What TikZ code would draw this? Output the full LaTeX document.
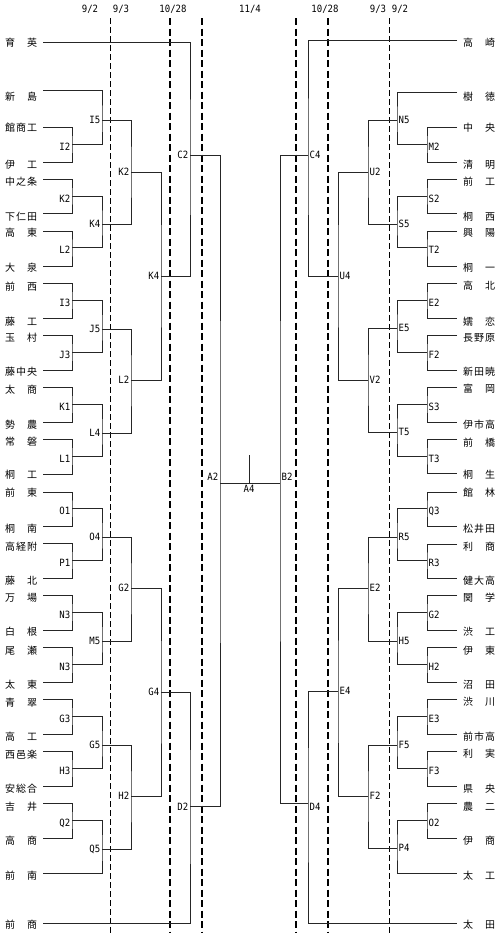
\documentclass[tikz,border=0pt]{standalone}
\usepackage{fontspec}
\usepackage{graphicx}
\usepackage{tikz}
\usetikzlibrary{positioning}
\newfontfamily\jpfont{Noto Sans CJK JP}
\newfontfamily\tagfont{DejaVu Sans Mono}
\newcommand{\sch}[1]{\makebox[32pt][l]{#1}}
\newcommand{\mk}[1]{\scalebox{0.9}[1]{#1}}
\tikzset{
    school/.style={font=\jpfont\fontsize{10}{10}\selectfont, inner sep=0pt},
    tag/.style={font=\tagfont\fontsize{10}{10}\selectfont, inner sep=1.5pt},
    bline/.style={line width=0.9pt, black!85},
    daythin/.style={dash pattern=on 6pt off 3pt, line width=0.9pt},
    daythick/.style={dash pattern=on 7pt off 3.5pt, line width=1.5pt}
}

\begin{document}
\begin{tikzpicture}[x=1pt, y=-1pt]
    \useasboundingbox[fill=white] (0,0) rectangle (500,937);

    % days
    \node[tag] (dayA) at (90,9) {\mk{9/2}};
    \node[tag] (dayB) at (121,9) {\mk{9/3}};
    \node[tag] (dayC) at (173,9) {\mk{10/28}};
    \node[tag] (dayD) at (250,9) {\mk{11/4}};
    \node[tag] (dayE) at (325,9) {\mk{10/28}};
    \node[tag] (dayF) at (378,9) {\mk{9/3}};
    \node[tag] (dayG) at (400,9) {\mk{9/2}};
    \foreach \x in {110,389}
        \draw[daythin] (\x,18) -- (\x,933);
    \foreach \x in {170,202,296,328}
        \draw[daythick] (\x,18) -- (\x,933);

    % left schools
    \foreach \i/\ty/\ly/\nm in {
        1/43/42/{育\hfill 英}, 2/97/90/{新\hfill 島}, 3/128/127/{館\hfill 商\hfill 工}, 4/165/162/{伊\hfill 工},
        5/182/179/{中\hfill 之\hfill 条}, 6/217/213/{下\hfill 仁\hfill 田}, 7/233/231/{高\hfill 東}, 8/268/266/{大\hfill 泉},
        9/287/283/{前\hfill 西}, 10/322/318/{藤\hfill 工}, 11/338/335/{玉\hfill 村}, 12/372/370/{藤\hfill 中\hfill 央},
        13/390/387/{太\hfill 商}, 14/425/422/{勢\hfill 農}, 15/442/439/{常\hfill 磐}, 16/475/474/{桐\hfill 工},
        17/493/492/{前\hfill 東}, 18/529/526/{桐\hfill 南}, 19/547/543/{高\hfill 経\hfill 附}, 20/581/578/{藤\hfill 北},
        21/598/595/{万\hfill 場}, 22/632/630/{白\hfill 根}, 23/651/647/{尾\hfill 瀬}, 24/685/682/{太\hfill 東},
        25/703/699/{青\hfill 翠}, 26/737/734/{高\hfill 工}, 27/755/751/{西\hfill 邑\hfill 楽}, 28/789/786/{安\hfill 総\hfill 合},
        29/807/803/{吉\hfill 井}, 30/841/838/{高\hfill 商}, 31/876/873/{前\hfill 南}, 32/925/923/{前\hfill 商}} {
        \node[school, anchor=west] (lt\i) at (5,\ty) {\sch{\nm}};
        \coordinate (ls\i) at (43,\ly);
    }

    % right schools
    \foreach \i/\ty/\ly/\nm in {
        1/43/40/{高\hfill 崎}, 2/97/92/{樹\hfill 徳}, 3/128/127/{中\hfill 央}, 4/165/162/{清\hfill 明},
        5/182/179/{前\hfill 工}, 6/217/213/{桐\hfill 西}, 7/233/231/{興\hfill 陽}, 8/268/266/{桐\hfill 一},
        9/286/283/{高\hfill 北}, 10/322/318/{嬬\hfill 恋}, 11/338/335/{長\hfill 野\hfill 原}, 12/372/370/{新\hfill 田\hfill 暁},
        13/389/387/{富\hfill 岡}, 14/425/422/{伊\hfill 市\hfill 高}, 15/443/439/{前\hfill 橋}, 16/475/473/{桐\hfill 生},
        17/493/492/{館\hfill 林}, 18/529/526/{松\hfill 井\hfill 田}, 19/547/544/{利\hfill 商}, 20/581/578/{健\hfill 大\hfill 高},
        21/598/595/{関\hfill 学}, 22/632/630/{渋\hfill 工}, 23/651/647/{伊\hfill 東}, 24/685/682/{沼\hfill 田},
        25/702/699/{渋\hfill 川}, 26/737/734/{前\hfill 市\hfill 高}, 27/754/751/{利\hfill 実}, 28/789/786/{県\hfill 央},
        29/807/803/{農\hfill 二}, 30/841/838/{伊\hfill 商}, 31/876/873/{太\hfill 工}, 32/925/923/{太\hfill 田}} {
        \node[school, anchor=west] (rt\i) at (463,\ty) {\sch{\nm}};
        \coordinate (rs\i) at (457,\ly);
    }

    % left bracket
    \foreach \m/\x/\y/\a/\b/\t/\dy in {
        la1/72/144/ls3/ls4/I2/-3, la2/72/196/ls5/ls6/K2/-3, la3/72/247/ls7/ls8/L2/-3, la4/72/300/ls9/ls10/I3/-3,
        la5/72/352/ls11/ls12/J3/-3, la6/72/404/ls13/ls14/K1/-3, la7/72/456/ls15/ls16/L1/-3, la8/72/508/ls17/ls18/O1/-3,
        la9/72/560/ls19/ls20/P1/-3, la10/72/612/ls21/ls22/N3/-3, la11/72/664/ls23/ls24/N3/-3, la12/72/716/ls25/ls26/G3/-3,
        la13/72/768/ls27/ls28/H3/-3, la14/72/820/ls29/ls30/Q2/-3,
        lb1/102/120/ls2/la1/I5/0, lb2/102/224/la2/la3/K4/0, lb3/102/329/la4/la5/J5/0, lb4/102/433/la6/la7/L4/0,
        lb5/102/537/la8/la9/O4/0, lb6/102/641/la10/la11/M5/0, lb7/102/745/la12/la13/G5/0, lb8/102/849/la14/ls31/Q5/0,
        lc1/131/172/lb1/lb2/K2/0, lc2/131/380/lb3/lb4/L2/0, lc3/131/588/lb5/lb6/G2/0, lc4/131/796/lb7/lb8/H2/0,
        ld1/161/276/lc1/lc2/K4/0, ld2/161/692/lc3/lc4/G4/0,
        le1/190/155/ls1/ld1/C2/0, le2/190/806/ld2/ls32/D2/-1,
        lf1/220/483/le1/le2/A2/6} {
        \coordinate (\m) at (\x,\y);
        \draw[bline] (\a) -| (\m) |- (\b);
        \node[tag, left, yshift=\dy] (\m-t) at (\m) {\mk{\t}};
    }

    % right bracket
    \foreach \m/\x/\y/\a/\b/\t/\dy in {
        ra1/427/144/rs3/rs4/M2/-3, ra2/427/196/rs5/rs6/S2/-3, ra3/427/247/rs7/rs8/T2/-3, ra4/427/300/rs9/rs10/E2/-3,
        ra5/427/352/rs11/rs12/F2/-3, ra6/427/404/rs13/rs14/S3/-3, ra7/427/456/rs15/rs16/T3/-3, ra8/427/508/rs17/rs18/Q3/-3,
        ra9/427/560/rs19/rs20/R3/-3, ra10/427/612/rs21/rs22/G2/-3, ra11/427/664/rs23/rs24/H2/-3, ra12/427/716/rs25/rs26/E3/-3,
        ra13/427/768/rs27/rs28/F3/-3, ra14/427/820/rs29/rs30/O2/-3,
        rb1/397/120/rs2/ra1/N5/0, rb2/397/224/ra2/ra3/S5/0, rb3/397/328/ra4/ra5/E5/0, rb4/397/432/ra6/ra7/T5/0,
        rb5/397/537/ra8/ra9/R5/0, rb6/397/641/ra10/ra11/H5/0, rb7/397/745/ra12/ra13/F5/0, rb8/397/848/ra14/rs31/P4/0,
        rc1/368/172/rb1/rb2/U2/0, rc2/368/380/rb3/rb4/V2/0, rc3/368/588/rb5/rb6/E2/0, rc4/368/796/rb7/rb8/F2/0,
        rd1/338/276/rc1/rc2/U4/0, rd2/338/691/rc3/rc4/E4/0,
        re1/308/155/rs1/rd1/C4/0, re2/308/803/rd2/rs32/D4/-4,
        rf1/280/483/re1/re2/B2/6} {
        \coordinate (\m) at (\x,\y);
        \draw[bline] (\a) -| (\m) |- (\b);
        \node[tag, right, yshift=\dy] (\m-t) at (\m) {\mk{\t}};
    }

    % final
    \coordinate (win) at (249,483);
    \coordinate (wintop) at (249,455);
    \draw[bline] (lf1) -- (rf1);
    \draw[bline] (win) -- (wintop);
    \node[tag, below, yshift=-1] (win-t) at (win) {\mk{A4}};
\end{tikzpicture}
\end{document}
